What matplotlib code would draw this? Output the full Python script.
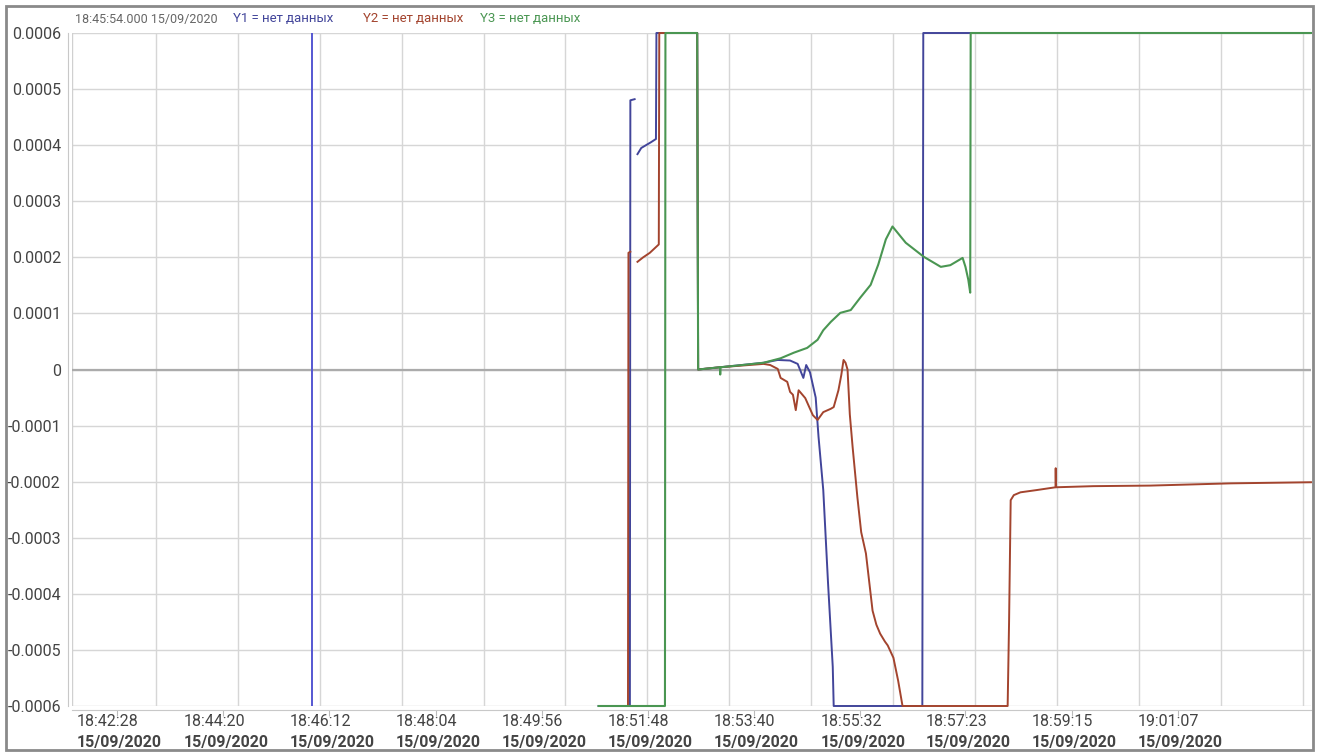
import numpy as np
import pandas as pd
import matplotlib
matplotlib.use('Agg')
import matplotlib.pyplot as plt
from matplotlib.patches import Rectangle
from matplotlib.transforms import ScaledTranslation

plt.rcParams['font.family'] = ['Roboto', 'DejaVu Sans']

nan = np.nan
start_time = '18:42:28'
date_label = '15/09/2020'
cursor_time = '18:45:54'
header = '18:45:54.000 15/09/2020'
legend_texts = ['Y1 = нет данных', 'Y2 = нет данных', 'Y3 = нет данных']

tick_times = ['18:42:28', '18:44:20', '18:46:12', '18:48:04', '18:49:56', '18:51:48',
              '18:53:40', '18:55:32', '18:57:23', '18:59:15', '19:01:07']
ytick_vals = [0.0006, 0.0005, 0.0004, 0.0003, 0.0002, 0.0001, 0,
              -0.0001, -0.0002, -0.0003, -0.0004, -0.0005, -0.0006]
ytick_labels = ['0.0006', '0.0005', '0.0004', '0.0003', '0.0002', '0.0001', '0',
                '-0.0001', '-0.0002', '-0.0003', '-0.0004', '-0.0005', '-0.0006']

# seconds after 18:42:28
y1_t = [508, 541, 541.5, 546, nan, 549, 553, 558, 563, 568.5, 569, 612, 613, 636, 682, 697,
        710, 718, 724, 727, 731, 737, 740, 745, 750, 755, 756, 849.5, 850.5, 1259.5]
y1_v = [-0.0006, -0.0006, 0.00048, 0.000482, nan, 0.000384, 0.000395, 0.0004, 0.000405,
        0.000411, 0.0006, 0.0006, 0.0, 0.000004, 0.000012, 0.000017, 0.000016, 0.00001,
        -0.000015, 0.000008, -0.000005, -0.00005, -0.00012, -0.000215, -0.00038, -0.00053,
        -0.0006, -0.0006, 0.0006, 0.0006]

y2_t = [539, 539.5, 541.5, nan, 549, 555, 562, 571.5, 572, 612, 613, 636, 682, 689, 697, 700,
        707, 710, 713, 716, 719, 723, 726, 731, 734, 739, 745, 753, 756, 761, 764, 766.4,
        768.5, 770.6, 773, 776, 781, 785, 790, 797, 801, 805, 810, 813, 819, 824, 828.6,
        939.5, 941, 942.7, 946, 953, 970, 990, 990.2, 990.5, 1030, 1090, 1175, 1259.5]
y2_v = [-0.0006, 0.000208, 0.00021, nan, 0.000192, 0.0002, 0.000208, 0.000223, 0.0006,
        0.0006, 0.0, 0.000004, 0.00001, 0.000008, 0.000001, -0.000015, -0.000022, -0.00004,
        -0.000045, -0.0000725, -0.000037, -0.000045, -0.000051, -0.00007, -0.0000814,
        -0.00009, -0.000076, -0.00007, -0.000067, -0.000037, -0.00001, 0.000017, 0.000012,
        0.0, -0.00008, -0.000139, -0.000228, -0.00029, -0.000328, -0.00043, -0.000455,
        -0.000471, -0.000485, -0.000492, -0.000514, -0.000555, -0.0006, -0.0006, -0.00045,
        -0.000233, -0.000224, -0.000219, -0.000215, -0.00021, -0.000176, -0.00021,
        -0.000208, -0.000207, -0.000203, -0.000201]

y3_t = [508, 578, 578.5, 612, 613, 636, 636.3, 636.6, 660, 682, 700, 714, 728, 739, 745,
        753, 763, 774, 784, 795, 803, 811, 818, 832, 851, 869, 879, 892, 895, 898, 900,
        900.5, 1259.5]
y3_v = [-0.0006, -0.0006, 0.0006, 0.0006, 0.0, 0.000004, -0.000009, 0.000004, 0.000008,
        0.000012, 0.00002, 0.00003, 0.0000385, 0.000053, 0.00007, 0.000085, 0.000101,
        0.000106, 0.000128, 0.000151, 0.000187, 0.000232, 0.000255, 0.000226, 0.000201,
        0.000183, 0.000186, 0.000199, 0.000183, 0.00016, 0.000137, 0.0006, 0.0006]

c_y1 = '#42459a'
c_y2 = '#a3442e'
c_y3 = '#4a9652'
c_cursor = '#5557d2'


def to_sec(s):
    return (pd.to_timedelta(s) - pd.to_timedelta(start_time)).total_seconds()


tick_sec = [to_sec(t) for t in tick_times]

fig = plt.figure(figsize=(13.17, 7.53), dpi=100)
ax = fig.add_axes([72 / 1317, 1 - 706 / 753, (1311 - 72) / 1317, (706 - 33) / 753])

ax.set_xlim(-47.5, 1259.5)
ax.set_ylim(-0.0006, 0.0006)

# vertical grid runs on its own step, not on the labelled ticks
for gx in np.arange(41, 1260, 86.4):
    ax.axvline(gx, color='#d6d6d6', lw=1, zorder=0)
for yv in ytick_vals:
    ax.axhline(yv, color='#d6d6d6', lw=1, zorder=0)
ax.axhline(0, color='#ababab', lw=1.6, zorder=0.5)
ax.axvline(-47.5, color='#d0d0d0', lw=1, zorder=0)

ax.axvline(to_sec(cursor_time), color=c_cursor, lw=1.4, zorder=1)

ax.plot(y1_t, y1_v, color=c_y1, lw=1.4, clip_on=False, zorder=2)
ax.plot(y2_t, y2_v, color=c_y2, lw=1.4, clip_on=False, zorder=3)
ax.plot(y3_t, y3_v, color=c_y3, lw=1.5, clip_on=False, zorder=4)

for side in ['top', 'right']:
    ax.spines[side].set_visible(False)
for side in ['left', 'bottom']:
    ax.spines[side].set_position(('outward', 3))
    ax.spines[side].set_color('#c8c8c8')

ax.set_yticks(ytick_vals)
ax.set_yticklabels(ytick_labels)
ax.tick_params(axis='y', length=0, pad=5, labelsize=11.5, labelcolor='#444444')

ax.set_xticks(tick_sec)
ax.tick_params(axis='x', length=4, color='#bbbbbb', labelbottom=False)

trans = ax.get_xaxis_transform()
for ts, lbl in zip(tick_sec, tick_times):
    off1 = trans + ScaledTranslation(-0.40, -0.16, fig.dpi_scale_trans)
    off2 = trans + ScaledTranslation(-0.40, -0.36, fig.dpi_scale_trans)
    ax.text(ts, 0, lbl, transform=off1, ha='left', va='center', fontsize=11.5,
            color='#444444', clip_on=False)
    ax.text(ts, 0, date_label, transform=off2, ha='left', va='center', fontsize=11.5,
            fontweight='bold', color='#444444', clip_on=False)

# header line above the plot
fig.text(75 / 1317, 1 - 19 / 753, header, fontsize=9, color='#666666', va='center')
for xp, txt, col in zip([233, 363, 480], legend_texts, [c_y1, c_y2, c_y3]):
    fig.text(xp / 1317, 1 - 19 / 753, txt, fontsize=9.5, color=col, va='center')

fig.patches.append(Rectangle((6 / 1317, 3 / 753), 1307 / 1317, 744 / 753,
                             transform=fig.transFigure, fill=False,
                             edgecolor='#8a8a8a', lw=2))

fig.savefig('out.png', dpi=100)
